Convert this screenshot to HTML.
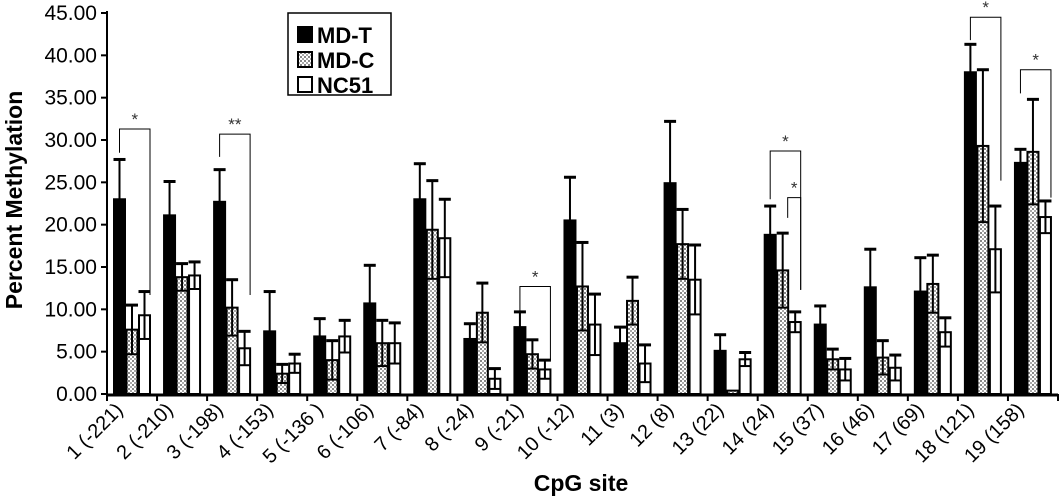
<!DOCTYPE html>
<html><head><meta charset="utf-8"><style>
body{margin:0;background:#fff;}
svg text{font-family:"Liberation Sans",Arial,sans-serif;}
</style></head><body>
<svg id="chart" width="1062" height="497" viewBox="0 0 1062 497" xmlns="http://www.w3.org/2000/svg">
<defs>
<pattern id="dots" width="4" height="4" patternUnits="userSpaceOnUse">
<rect width="4" height="4" fill="#fff"/>
<rect x="0" y="0" width="2" height="2" fill="#888"/>
<rect x="2" y="2" width="2" height="2" fill="#aaa"/>
</pattern>
</defs>
<g id="plot"></g>
</svg>
<script>
const categories=["1 (-221)","2 (-210)","3 (-198)","4 (-153)","5 (-136 )","6 (-106)","7 (-84)","8 (-24)","9 (-21)","10 (-12)","11 (3)","12 (8)","13 (22)","14 (24)","15 (37)","16 (46)","17 (69)","18 (121)","19 (158)"];
const mdT=[23.0,21.1,22.7,7.4,6.8,10.7,23.0,6.5,7.9,20.5,6.0,24.9,5.1,18.8,8.2,12.6,12.1,38.0,27.3];
const mdTsd=[4.7,4.0,3.8,4.7,2.1,4.5,4.2,1.8,1.8,5.1,1.9,7.3,1.9,3.4,2.2,4.5,4.0,3.3,1.6];
const mdC=[7.6,13.8,10.2,2.4,4.0,6.0,19.4,9.6,4.7,12.7,11.0,17.7,0.4,14.6,4.1,4.3,13.0,29.3,28.6];
const mdCsd=[2.9,1.6,3.3,1.1,2.3,2.7,5.8,3.5,1.7,5.2,2.8,4.1,0,4.4,1.2,2.0,3.4,9.0,6.2];
const nc51=[9.3,14.0,5.4,3.6,6.8,6.0,18.4,1.8,2.9,8.2,3.6,13.5,4.1,8.5,2.9,3.1,7.3,17.1,20.9];
const nc51sd=[2.8,1.6,2.0,1.1,1.9,2.4,4.6,1.2,1.1,3.6,2.2,4.1,0.8,1.2,1.3,1.5,1.7,5.1,1.9];
const yTicks=[0,5,10,15,20,25,30,35,40,45];
const sigCats=[0,2,8,13,13,17,18];
const sigFrom=[0,0,0,0,1,0,0];
const sigLabel=["*","**","*","*","*","*","*"];
const sigY=[31.3,30.7,12.7,28.7,23.2,44.5,38.3];
const sigRight=[11.7,11.7,4.0,12.3,12.3,25.2,23.2];
const sigLeft=[28.5,28.0,9.5,23.0,20.8,41.8,35.5];

const NS="http://www.w3.org/2000/svg";
const g=document.getElementById('plot');
const X0=107,X1=1058,Y0=394,YT=13,YMAX=45;
const n=categories.length, gw=(X1-X0)/n;
function y(v){return Y0-(v/YMAX)*(Y0-YT);}
function gx(i){return X0+i*gw;}
function mk(t,a,p){const e=document.createElementNS(NS,t);for(const k in a)e.setAttribute(k,a[k]);(p||g).appendChild(e);return e;}

let ax=mk('line',{x1:X0,y1:YT-2,x2:X0,y2:Y0+2,stroke:'#000','stroke-width':2});


yTicks.forEach(v=>{
 let t=mk('line',{x1:X0-6,y1:y(v),x2:X0,y2:y(v),stroke:'#000','stroke-width':2});
 
 
 let l=mk('text',{x:X0-10,y:y(v)+7,'text-anchor':'end','font-size':21,fill:'#000'});
 l.textContent=v.toFixed(2);
 
 
});
let xa=mk('line',{x1:X0,y1:Y0+1,x2:X1,y2:Y0+1,stroke:'#000','stroke-width':3});


for(let i=0;i<=n;i++){
 let t=mk('line',{x1:gx(i),y1:Y0,x2:gx(i),y2:Y0+7,stroke:'#000','stroke-width':2});
 
 
}
categories.forEach((c,i)=>{
 const cx=gx(i)+gw/2-8, cy=Y0+17;
 let l=mk('text',{x:cx,y:cy,'text-anchor':'end','font-size':20,fill:'#000',transform:`rotate(-45 ${cx} ${cy})`});
 l.textContent=c;
 
 
});
const series=[[mdT,mdTsd,'#000','md-t'],[mdC,mdCsd,'url(#dots)','md-c'],[nc51,nc51sd,'#fff','nc51']];
categories.forEach((c,i)=>{
 series.forEach((s,k)=>{
  const v=s[0][i],sd=s[1][i];
  const bx=gx(i)+7+k*12.5, bw=11;
  let r=mk('rect',{x:bx,y:y(v),width:bw,height:Y0-y(v),fill:s[2],stroke:'#000','stroke-width':2});
  
  
  const mx=bx+bw/2;
  if(sd>0){
   let e=mk('line',{x1:mx,y1:y(v+sd),x2:mx,y2:y(Math.max(v-sd,0)),stroke:'#000','stroke-width':2});
   
   
   let cap=mk('line',{x1:mx-6,y1:y(v+sd),x2:mx+6,y2:y(v+sd),stroke:'#000','stroke-width':3});
   
   
   if(k>0){
    let lo=mk('line',{x1:bx,y1:y(Math.max(v-sd,0)),x2:bx+bw,y2:y(Math.max(v-sd,0)),stroke:'#000','stroke-width':2});
    
    
   }
  }
 });
});
sigCats.forEach((ci,j)=>{
 const xl=gx(ci)+7+sigFrom[j]*12.5+5.5+(sigFrom[j]?5:0), xr=gx(ci)+7+2*12.5+11;
 let p=mk('path',{d:`M${xl} ${y(sigLeft[j])} V${y(sigY[j])} H${xr} V${y(sigRight[j])}`,fill:'none',stroke:'#000','stroke-width':1});
 
 
 let t=mk('text',{x:(xl+xr)/2,y:y(sigY[j])-4,'text-anchor':'middle','font-size':17,fill:'#333'});
 t.textContent=sigLabel[j];
 
 
});
let yt=mk('text',{x:22,y:200,'text-anchor':'middle','font-size':23,'font-weight':'bold',transform:'rotate(-90 22 200)'});
yt.textContent='Percent Methylation';


let xt=mk('text',{x:581,y:491,'text-anchor':'middle','font-size':23,'font-weight':'bold'});
xt.textContent='CpG site';


let lg=mk('g',{});


mk('rect',{x:288,y:13,width:103,height:82,fill:'#fff',stroke:'#000','stroke-width':1.5},lg);
const lnames=['MD-T','MD-C','NC51'],lfill=['#000','url(#dots)','#fff'];
lnames.forEach((nm,k)=>{
 const ly=25+k*25;
 let en=mk('g',{},lg);
 
 
 mk('rect',{x:298,y:ly+2,width:14,height:15,fill:lfill[k],stroke:'#000','stroke-width':2},en);
 let t=mk('text',{x:317,y:ly+18,'font-size':22,'font-weight':'bold'},en);
 t.textContent=nm;
});
</script>
</body></html>
